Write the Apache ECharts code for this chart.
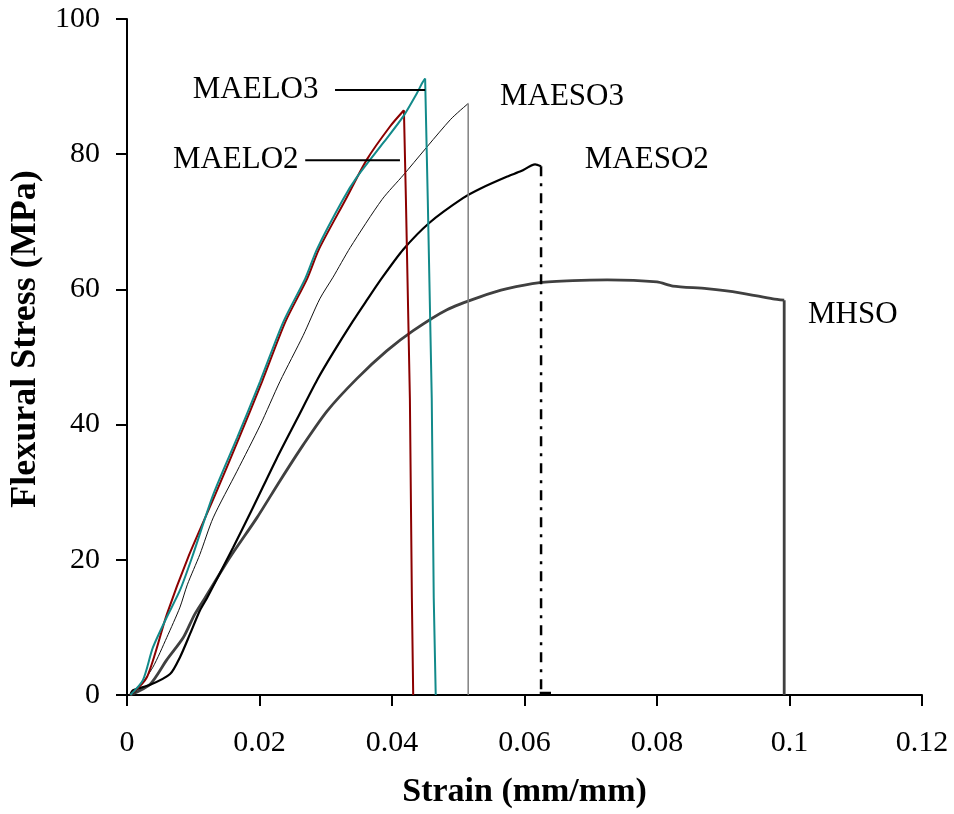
<!DOCTYPE html>
<html><head><meta charset="utf-8">
<script src="https://cdn.jsdelivr.net/npm/echarts@6/dist/echarts.min.js"></script>
<style>html,body{margin:0;padding:0;background:#fff}#c{width:954px;height:814px}</style>
</head><body><div id="c"></div>
<script>
// ---- data (strain mm/mm, stress MPa) ----
const maelo3 = [[0.0005,0],[0.0024,2.2],[0.0039,7],[0.006,11.5],[0.008,15.5],[0.0098,20.3],[0.013,29.6],[0.0166,38],[0.0201,46.4],[0.0236,55.2],[0.0269,61.6],[0.0287,66],[0.0326,73.3],[0.0347,76.6],[0.0387,81.7],[0.0417,85.6],[0.0438,89.1],[0.0446,90.6],[0.045,91.2]];
const maelo3Drop = [[0.045,91.2],[0.0454,73.3],[0.046,43.9],[0.0463,14.4],[0.0466,0]];
const maelo2 = [[0.0005,0],[0.003,2.6],[0.006,11.9],[0.0092,20.3],[0.0133,29.6],[0.0169,38],[0.0204,46.4],[0.0239,55.2],[0.0272,61.6],[0.029,66],[0.033,73.3],[0.0362,79.2],[0.0397,84.1],[0.0418,86.5]];
const maelo2Drop = [[0.0418,86.5],[0.0421,73.3],[0.0427,43.9],[0.043,14.4],[0.0432,0]];
const maeso3 = [[0.0008,0],[0.0015,0.7],[0.0039,4.1],[0.006,8.5],[0.008,13],[0.0091,16.3],[0.011,20.8],[0.013,26.2],[0.0166,33.1],[0.0201,39.9],[0.0231,46.4],[0.0266,53.2],[0.0291,58.6],[0.0311,61.8],[0.0337,66.2],[0.0385,73.3],[0.0417,76.9],[0.0488,85.1],[0.0515,87.5]];
const maeso3Drop = [[0.0515,87.5],[0.0515,0]];
const maeso2 = [[0.0005,0],[0.0009,0.7],[0.0035,1.5],[0.0065,3.1],[0.008,5.6],[0.0095,9],[0.011,12.5],[0.0121,14.4],[0.016,21.8],[0.019,27.7],[0.0226,35],[0.0257,40.9],[0.0287,46.6],[0.0311,50.6],[0.0341,55.3],[0.0362,58.4],[0.0382,61.3],[0.0417,65.9],[0.0457,69.9],[0.0507,73.5],[0.0533,74.9],[0.0574,76.7],[0.0595,77.5],[0.0616,78.5],[0.0625,78.2]];
const maeso2Drop = [[0.0625,78.2],[0.0625,0.3]];
const maeso2Tail = [[0.0623,0.3],[0.064,0.3]];
const mhso = [[0.0005,0],[0.0035,1.6],[0.006,5.2],[0.0085,8.5],[0.0102,11.9],[0.0118,14.4],[0.0155,20.3],[0.0196,26.2],[0.0231,31.7],[0.0266,37],[0.0302,42],[0.0347,46.8],[0.0392,50.9],[0.0432,53.9],[0.0483,57.0],[0.0533,58.9],[0.0574,60.1],[0.0623,61.0],[0.0673,61.3],[0.0725,61.4],[0.08,61.1],[0.0824,60.5],[0.0875,60.1],[0.0925,59.5],[0.0975,58.6],[0.0992,58.4]];
const mhsoDrop = [[0.0992,58.4],[0.0992,0]];
const leader3 = [[0.0314,89.5],[0.0450,89.5]];
const leader2 = [[0.0269,79.1],[0.0412,79.1]];
const labelsRight = [["MAELO3",0.0289,89.5],["MAELO2",0.0259,79.1]];
const labelsLeft = [["MAESO3",0.0563,88.5],["MAESO2",0.0691,79.1],["MHSO",0.1028,56.3]];
const xTicks = {min:0,max:0.12,interval:0.02};
const yTicks = {min:0,max:100,interval:20};

const font = '"Liberation Serif","Times New Roman",serif';
const chart = echarts.init(document.getElementById('c'));
function line(data,color,width,type,smooth){
  return {type:'line',data:data,showSymbol:false,symbol:'none',animation:false,
    smooth:smooth||false,
    lineStyle:{color:color,width:width,type:type||'solid'},z:3};
}
const lbl = {show:true,distance:0,formatter:p=>p.name,fontFamily:font,fontSize:31,color:'#000',opacity:1};
chart.setOption({
  backgroundColor:'#fff',
  animation:false,
  grid:{left:127,right:32,top:19,bottom:116},
  xAxis:{type:'value',min:xTicks.min,max:xTicks.max,interval:xTicks.interval,
    name:'Strain (mm/mm)',nameLocation:'middle',nameGap:80,
    nameTextStyle:{fontFamily:font,fontWeight:'bold',fontSize:34,color:'#000'},
    axisLine:{lineStyle:{color:'#000',width:2}},
    axisTick:{inside:false,length:11,lineStyle:{color:'#000',width:2}},
    splitLine:{show:false},
    axisLabel:{fontFamily:font,fontSize:30,color:'#000',margin:33,
      formatter:v=>String(Math.round(v*100)/100)}},
  yAxis:{type:'value',min:yTicks.min,max:yTicks.max,interval:yTicks.interval,
    name:'Flexural Stress (MPa)',nameLocation:'middle',nameGap:72,
    nameTextStyle:{fontFamily:font,fontWeight:'bold',fontSize:36,color:'#000',padding:[0,0,0,36]},
    axisLine:{show:true,lineStyle:{color:'#000',width:2}},
    axisTick:{show:true,inside:false,length:11,lineStyle:{color:'#000',width:2}},
    splitLine:{show:false},
    axisLabel:{fontFamily:font,fontSize:30,color:'#000',margin:27}},
  series:[
    line(mhso,'#404040',2.8,'solid',0.25),
    line(mhsoDrop,'#404040',2.8),
    line(maeso2,'#000',2.2,'solid',0.25),
    line(maeso2Drop,'#000',2.5,[10,7,3,7]),
    line(maeso2Tail,'#000',2.5),
    line(maeso3,'#111',1,'solid',0.25),
    line(maeso3Drop,'#808080',1.5),
    line(maelo2,'#8b0000',2,'solid',0.25),
    line(maelo2Drop,'#8b0000',2),
    line(maelo3,'#128a8a',2,'solid',0.25),
    line(maelo3Drop,'#128a8a',2),
    line(leader3,'#000',2),
    line(leader2,'#000',2),
    {type:'scatter',data:labelsRight.map(d=>({value:[d[1],d[2]],name:d[0]})),symbolSize:0,
      itemStyle:{opacity:1},label:Object.assign({position:'left'},lbl)},
    {type:'scatter',data:labelsLeft.map(d=>({value:[d[1],d[2]],name:d[0]})),symbolSize:0,
      itemStyle:{opacity:1},label:Object.assign({position:'right'},lbl)}
  ]
});
</script></body></html>
